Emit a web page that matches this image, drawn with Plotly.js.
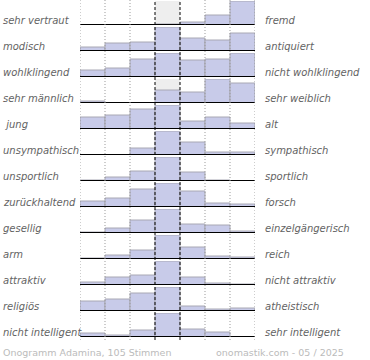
<!DOCTYPE html>
<html>
<head>
<meta charset="utf-8">
<script src="https://cdn.plot.ly/plotly-3.0.1.min.js"></script>
<style>html,body{margin:0;padding:0;background:#fff;}#chart{width:370px;height:360px;}</style>
</head>
<body>
<div id="chart"></div>
<script>
// Semantic pairs (left pole / right pole)
const leftLabels = ["sehr vertraut","modisch","wohlklingend","sehr männlich","\u00a0jung","unsympathisch","unsportlich","zurückhaltend","gesellig","arm","attraktiv","religiös","nicht intelligent"];
const rightLabels = ["fremd","antiquiert","nicht wohlklingend","sehr weiblich","alt","sympathisch","sportlich","forsch","einzelgängerisch","reich","nicht attraktiv","atheistisch","sehr intelligent"];
const scaleSteps = [1,2,3,4,5,6,7];

// Relative vote heights per row (7 steps)
const vertraut     = [0.5, 0, 0, 1, 3, 10, 24];
const modisch      = [4, 8, 9, 24, 13, 11, 18];
const wohlklingend = [7, 9, 18, 24, 17, 18, 24];
const maennlich    = [2, 0, 0, 13, 11, 24, 20];
const jung         = [12, 14, 20, 24, 8, 12, 6];
const unsympathisch= [0, 0, 7, 24, 13, 3, 3];
const unsportlich  = [1, 4, 10, 24, 9, 1, 0.5];
const zurueck      = [6, 9, 18, 24, 16, 4, 3];
const gesellig     = [1, 5, 13, 24, 9, 8, 2];
const arm          = [1, 4, 9, 24, 12, 3, 2];
const attraktiv    = [3, 8, 10, 24, 8, 2, 1];
const religioes    = [10, 12, 18, 24, 5, 2, 3];
const intelligent  = [4, 2, 7, 24, 8, 5, 0];
const rows = [vertraut, modisch, wohlklingend, maennlich, jung, unsympathisch, unsportlich, zurueck, gesellig, arm, attraktiv, religioes, intelligent];

const footerLeft = "Onogramm Adamina, 105 Stimmen";
const footerRight = "onomastik.com - 05 / 2025";

const H = 338; // plot area height in px
const font = {family: "DejaVu Sans", size: 10, color: "#636363", style: "italic"};

const traces = [];
const layout = {
  width: 370, height: 360,
  margin: {l: 80, r: 115, t: 0, b: 22, pad: 0},
  paper_bgcolor: "#fff", plot_bgcolor: "rgba(0,0,0,0)",
  showlegend: false, bargap: 0,
  xaxis: {range: [0.5, 7.5], visible: false, fixedrange: true, anchor: "y13"},
  shapes: [], annotations: []
};

rows.forEach((vals, i) => {
  const n = i + 1;
  const yname = n === 1 ? "y" : "y" + n;
  const akey = n === 1 ? "yaxis" : "yaxis" + n;
  const B = 25 + 26 * i;
  layout[akey] = {
    domain: [(H - B) / H, (H - B + 24) / H],
    range: [0, Math.max(...vals)],
    visible: false, fixedrange: true
  };
  traces.push({
    type: "bar", x: scaleSteps, y: vals, xaxis: "x", yaxis: yname, width: 1,
    marker: {color: "#c8cbe9", line: {color: "#a8a8b4", width: 1}},
    hoverinfo: "skip"
  });
  layout.shapes.push({type: "rect", xref: "x", yref: yname + " domain", x0: 3.5, x1: 4.5, y0: 0, y1: 1,
    fillcolor: "#eeeeee", line: {width: 0}, layer: "below"});
  layout.shapes.push({type: "line", xref: "x", yref: yname, x0: 0.5, x1: 7.5, y0: 0, y1: 0,
    line: {color: "#000", width: 2}, layer: "above"});
  layout.annotations.push({xref: "paper", yref: yname + " domain", x: 0, xshift: -79, xanchor: "left",
    y: 0.19, yanchor: "middle", text: leftLabels[i], showarrow: false, font: font});
  layout.annotations.push({xref: "paper", yref: yname + " domain", x: 1, xshift: 8, xanchor: "left",
    y: 0.19, yanchor: "middle", text: rightLabels[i], showarrow: false, font: font});
});

// column separators
[0.5, 1.5, 2.5, 3.5, 4.5, 5.5, 6.5, 7.5].forEach(xv => {
  const mid = (xv === 3.5 || xv === 4.5);
  layout.shapes.push({type: "line", xref: "x", yref: "paper", x0: xv, x1: xv, y0: -0.006, y1: 1,
    line: mid ? {color: "#000", width: 1, dash: "3px,2px"} : {color: "#9a9a9a", width: 1, dash: "1px,2px"},
    layer: "above"});
});

layout.annotations.push({xref: "paper", yref: "paper", x: 0, xshift: -79, xanchor: "left", y: 0, yshift: -14,
  yanchor: "middle", text: footerLeft, showarrow: false, font: {family: "DejaVu Sans", size: 9.5, color: "#bbbbbb"}});
layout.annotations.push({xref: "paper", yref: "paper", x: 1, xshift: 91, xanchor: "right", y: 0, yshift: -14,
  yanchor: "middle", text: footerRight, showarrow: false, font: {family: "DejaVu Sans", size: 9.5, color: "#bbbbbb"}});

Plotly.newPlot("chart", traces, layout, {displayModeBar: false, staticPlot: true});
</script>
</body>
</html>
